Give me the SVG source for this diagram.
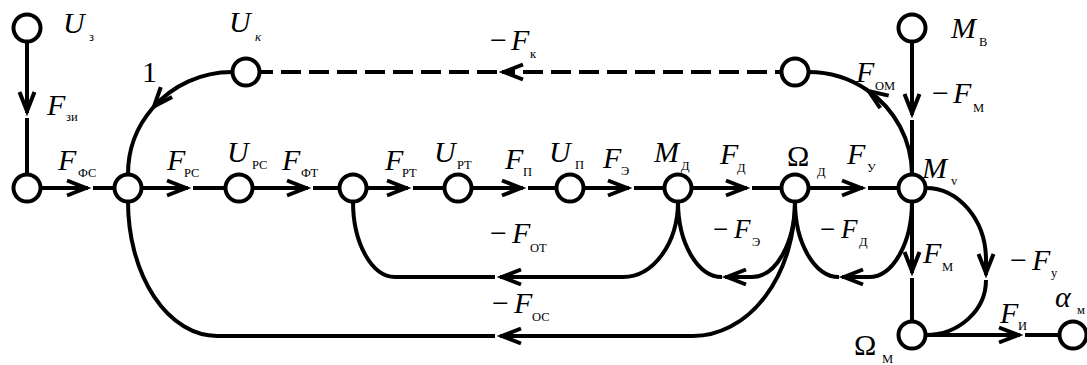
<svg xmlns="http://www.w3.org/2000/svg" width="1087" height="365" viewBox="0 0 1087 365">
<style>
.c{fill:none;stroke:#000;stroke-width:4}
.d{stroke-dasharray:20 8}
.nd{fill:#fff;stroke:#000;stroke-width:4}
.m{font-family:"Liberation Serif","Times New Roman",serif;font-style:italic;font-size:30px}
.r{font-family:"Liberation Serif","Times New Roman",serif;font-size:30px}
.s{font-family:"Liberation Serif","Times New Roman",serif;font-size:12.5px;font-style:normal}
.si{font-family:"Liberation Serif","Times New Roman",serif;font-size:13px;font-style:italic}
.m2{font-family:"Liberation Serif","Times New Roman",serif;font-style:italic;font-size:27px}
.r2{font-family:"Liberation Serif","Times New Roman",serif;font-size:27px}
</style>
<defs>
<marker id="a" viewBox="-24 -12 30 24" markerWidth="30" markerHeight="24" refX="0" refY="0" orient="auto" markerUnits="userSpaceOnUse" overflow="visible">
<path d="M-21,-7.5 L-2,0 L-21,7.5" fill="none" stroke="#000" stroke-width="4" stroke-dasharray="none"/>
</marker>
</defs>
<g id="connectors">
<path class="c" d="M27 28 L27 113" marker-end="url(#a)"/>
<path class="c" d="M27 118 L27 188"/>
<path class="c" d="M27 188 L88 188" marker-end="url(#a)"/>
<path class="c" d="M93 188 L128 188"/>
<path class="c" d="M128 188 L188 188" marker-end="url(#a)"/>
<path class="c" d="M193 188 L239 188"/>
<path class="c" d="M239 188 L308 188" marker-end="url(#a)"/>
<path class="c" d="M313 188 L353 188"/>
<path class="c" d="M353 188 L408 188" marker-end="url(#a)"/>
<path class="c" d="M413 188 L458 188"/>
<path class="c" d="M458 188 L523 188" marker-end="url(#a)"/>
<path class="c" d="M528 188 L570 188"/>
<path class="c" d="M570 188 L629 188" marker-end="url(#a)"/>
<path class="c" d="M634 188 L678 188"/>
<path class="c" d="M678 188 L747 188" marker-end="url(#a)"/>
<path class="c" d="M752 188 L795 188"/>
<path class="c" d="M795 188 L863 188" marker-end="url(#a)"/>
<path class="c" d="M868 188 L912 188"/>
<path class="c d" d="M795 72 L502 72" marker-end="url(#a)"/>
<path class="c d" d="M497 72 L246 72"/>
<path class="c" d="M232.5 72 A104 102 0 0 0 152.7 108" marker-end="url(#a)"/>
<path class="c" d="M152.7 108 A104 102 0 0 0 128 174.5"/>
<path class="c" d="M912 174.5 A103.5 102.5 0 0 0 867.1 90" marker-end="url(#a)"/>
<path class="c" d="M867.1 90 A103.5 102.5 0 0 0 808.5 72"/>
<path class="c" d="M912 28 L912 115" marker-end="url(#a)"/>
<path class="c" d="M912 120 L912 188"/>
<path class="c" d="M795 201.5 A102 134.5 0 0 1 693 336 L500 336" marker-end="url(#a)"/>
<path class="c" d="M495 336 L217 336 A89 134.5 0 0 1 128 201.5"/>
<path class="c" d="M678 201.5 A55 75.5 0 0 1 623 277 L500 277" marker-end="url(#a)"/>
<path class="c" d="M495 277 L395 277 A42 75.5 0 0 1 353 201.5"/>
<path class="c" d="M795 201.5 A43 75.5 0 0 1 752 277 L725 277" marker-end="url(#a)"/>
<path class="c" d="M722 277 A44 75.5 0 0 1 678 201.5"/>
<path class="c" d="M912 201.5 A43 75.5 0 0 1 869 277 L842 277" marker-end="url(#a)"/>
<path class="c" d="M839 277 A44 75.5 0 0 1 795 201.5"/>
<path class="c" d="M912 188 L912 273" marker-end="url(#a)"/>
<path class="c" d="M912 278 L912 335"/>
<path class="c" d="M925.5 188 A60.5 72 0 0 1 986 260 L986 275" marker-end="url(#a)"/>
<path class="c" d="M986 280 A60.5 55 0 0 1 925.5 335"/>
<path class="c" d="M912 335 L1020 335" marker-end="url(#a)"/>
<path class="c" d="M1025 335 L1073 335"/>
</g>
<g id="edge-labels">
<text class="m" x="47" y="115">F<tspan class="s" x="66" y="121">зи</tspan></text>
<text class="r" x="142" y="82">1</text>
<text x="490" y="50"><tspan class="r">−</tspan><tspan class="m" x="511">F</tspan><tspan class="s" x="530" y="58">к</tspan></text>
<text class="m" x="856" y="82">F<tspan class="s" x="875" y="90">ОМ</tspan></text>
<text x="932" y="103"><tspan class="r">−</tspan><tspan class="m" x="953">F</tspan><tspan class="s" x="973" y="112">М</tspan></text>
<text class="m" x="58" y="170">F<tspan class="s" x="78" y="177">ФС</tspan></text>
<text class="m" x="167" y="170">F<tspan class="s" x="184" y="177">РС</tspan></text>
<text class="m" x="282" y="170">F<tspan class="s" x="301" y="177">ФТ</tspan></text>
<text class="m" x="385" y="170">F<tspan class="s" x="402" y="177">РТ</tspan></text>
<text class="m" x="505" y="169">F<tspan class="s" x="523" y="176">П</tspan></text>
<text class="m" x="603" y="168">F<tspan class="s" x="621" y="175">Э</tspan></text>
<text class="m" x="720" y="164">F<tspan class="s" x="737" y="172">Д</tspan></text>
<text class="m" x="847" y="164">F<tspan class="s" x="867" y="172">У</tspan></text>
<text x="490" y="243"><tspan class="r">−</tspan><tspan class="m" x="512">F</tspan><tspan class="s" x="530" y="252">ОТ</tspan></text>
<text x="713" y="238"><tspan class="r2">−</tspan><tspan class="m2" x="734">F</tspan><tspan class="s" x="752" y="246">Э</tspan></text>
<text x="820" y="238"><tspan class="r2">−</tspan><tspan class="m2" x="841">F</tspan><tspan class="s" x="859" y="246">Д</tspan></text>
<text x="492" y="313"><tspan class="r">−</tspan><tspan class="m" x="514">F</tspan><tspan class="s" x="532" y="321">ОС</tspan></text>
<text class="m" x="923" y="263">F<tspan class="s" x="942" y="271">М</tspan></text>
<text x="1010" y="270"><tspan class="r">−</tspan><tspan class="m" x="1032">F</tspan><tspan class="s" x="1051" y="277">у</tspan></text>
<text class="m" x="1000" y="323">F<tspan class="s" x="1018" y="330">И</tspan></text>
</g>
<g id="n-U3"><circle class="nd" cx="27" cy="28" r="13.5"/><text class="m" x="63" y="33">U<tspan class="s" x="89" y="41">з</tspan></text></g>
<g id="n-Uk"><circle class="nd" cx="246" cy="72" r="13.5"/><text class="m" x="229" y="32">U<tspan class="si" x="255" y="41">к</tspan></text></g>
<g id="n-R"><circle class="nd" cx="795" cy="72" r="13.5"/></g>
<g id="n-MB"><circle class="nd" cx="912" cy="28" r="13.5"/><text class="m" x="951" y="38">M<tspan class="s" x="979" y="46">В</tspan></text></g>
<g id="n-1"><circle class="nd" cx="27" cy="188" r="13.5"/></g>
<g id="n-2"><circle class="nd" cx="128" cy="188" r="13.5"/></g>
<g id="n-Upc"><circle class="nd" cx="239" cy="188" r="13.5"/><text class="m" x="227" y="162">U<tspan class="s" x="252" y="169">РС</tspan></text></g>
<g id="n-4"><circle class="nd" cx="353" cy="188" r="13.5"/></g>
<g id="n-Upt"><circle class="nd" cx="458" cy="188" r="13.5"/><text class="m" x="434" y="162">U<tspan class="s" x="457" y="169">РТ</tspan></text></g>
<g id="n-Up"><circle class="nd" cx="570" cy="188" r="13.5"/><text class="m" x="549" y="162">U<tspan class="s" x="575" y="169">П</tspan></text></g>
<g id="n-Md"><circle class="nd" cx="678" cy="188" r="13.5"/><text class="m" x="654" y="162">M<tspan class="s" x="681" y="170">Д</tspan></text></g>
<g id="n-Od"><circle class="nd" cx="795" cy="188" r="13.5"/><text class="r" x="787" y="166">Ω<tspan class="s" x="817" y="176">Д</tspan></text></g>
<g id="n-Mv"><circle class="nd" cx="912" cy="188" r="13.5"/><text class="m" x="922" y="178">M<tspan class="s" x="951" y="185">v</tspan></text></g>
<g id="n-Om"><circle class="nd" cx="912" cy="335" r="13.5"/><text class="r" x="854" y="355">Ω<tspan class="s" x="882" y="363">М</tspan></text></g>
<g id="n-am"><circle class="nd" cx="1073" cy="335" r="13.5"/><text class="m" x="1055" y="307">α<tspan class="s" x="1077" y="314">м</tspan></text></g>
</svg>
